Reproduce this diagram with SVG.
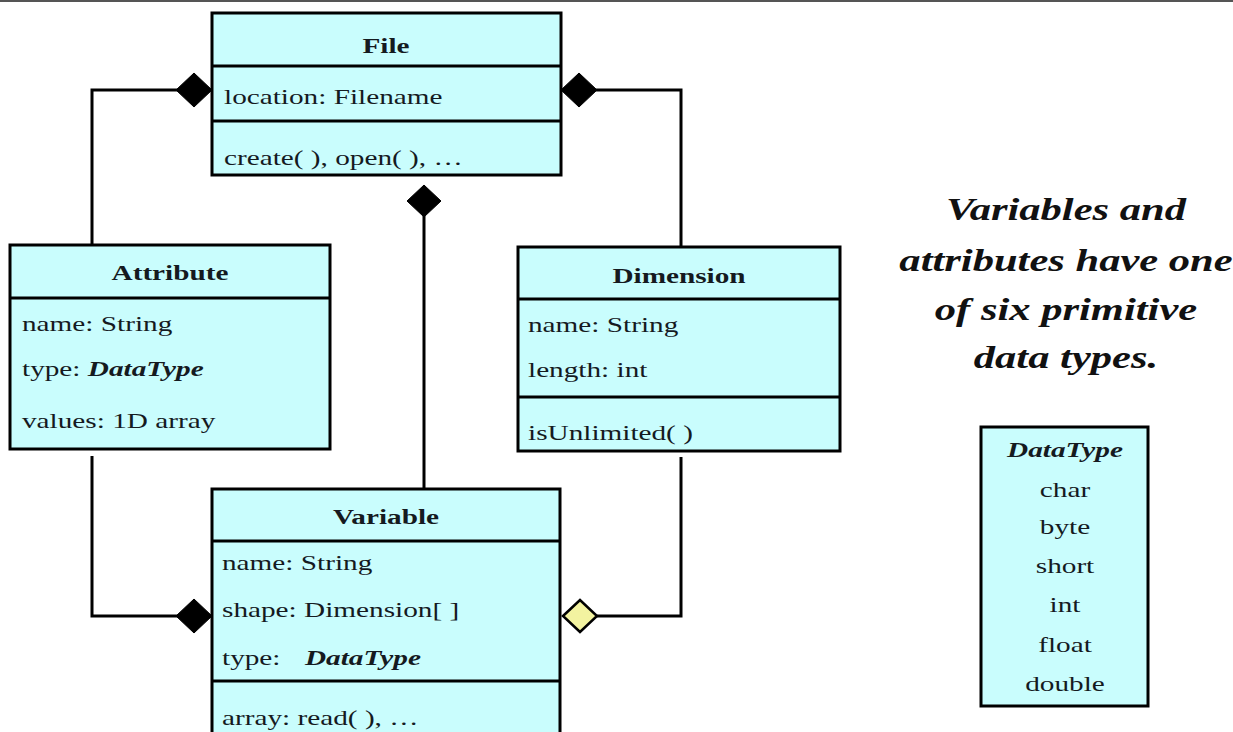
<svg xmlns="http://www.w3.org/2000/svg" width="1233" height="732" viewBox="0 0 1233 732">
<style>
.box{fill:#c9fdfd;stroke:#000;stroke-width:3}
.div{stroke:#000;stroke-width:3}
.t{font-family:"Liberation Serif","Times New Roman",serif;font-size:22px;fill:#151a1f}
.b{font-weight:bold}
.bi{font-weight:bold;font-style:italic}
.big{font-family:"Liberation Serif","Times New Roman",serif;font-size:32px;font-weight:bold;font-style:italic;fill:#111}
.ln{fill:none;stroke:#000;stroke-width:3}
.fd{fill:#000;stroke:#000;stroke-width:1}
.hd{fill:#f3f3a0;stroke:#000;stroke-width:2.5}
</style>
<rect x="0" y="0" width="1233" height="732" fill="#fff"/>
<rect x="0" y="0" width="1233" height="2" fill="#555"/>

<g id="connectors">
<path class="ln" d="M92 245 V90 H178"/>
<polygon class="fd" points="212,90 194,73 176,90 194,107"/>
<path class="ln" d="M596 90 H681 V247"/>
<polygon class="fd" points="561,90 579,73 597,90 579,107"/>
<path class="ln" d="M424 216 V489"/>
<polygon class="fd" points="424,185 441,201 424,217 407,201"/>
<path class="ln" d="M92 456 V616 H178"/>
<polygon class="fd" points="212,616 194,599 176,616 194,633"/>
<path class="ln" d="M681 457 V616 H597"/>
<polygon class="hd" points="563,616 580,600 597,616 580,632"/>
</g>

<g id="file">
<rect class="box" x="212" y="13" width="349" height="162"/>
<line class="div" x1="212" y1="66" x2="561" y2="66"/>
<line class="div" x1="212" y1="121" x2="561" y2="121"/>
<text class="t b" text-anchor="middle" transform="matrix(1.33 0 0 1 386 53)">File</text>
<text class="t" transform="matrix(1.33 0 0 1 224 104)">location: Filename</text>
<text class="t" transform="matrix(1.33 0 0 1 224 165)">create( ), open( ), …</text>
</g>

<g id="attribute">
<rect class="box" x="10" y="245" width="320" height="204"/>
<line class="div" x1="10" y1="298" x2="330" y2="298"/>
<text class="t b" text-anchor="middle" transform="matrix(1.33 0 0 1 170 280)">Attribute</text>
<text class="t" transform="matrix(1.33 0 0 1 22 331)">name: String</text>
<text class="t" transform="matrix(1.33 0 0 1 22 376)">type: <tspan class="bi">DataType</tspan></text>
<text class="t" transform="matrix(1.33 0 0 1 22 428)">values: 1D array</text>
</g>

<g id="dimension">
<rect class="box" x="518" y="247" width="322" height="204"/>
<line class="div" x1="518" y1="299" x2="840" y2="299"/>
<line class="div" x1="518" y1="397" x2="840" y2="397"/>
<text class="t b" text-anchor="middle" transform="matrix(1.33 0 0 1 679 283)">Dimension</text>
<text class="t" transform="matrix(1.33 0 0 1 528 332)">name: String</text>
<text class="t" transform="matrix(1.33 0 0 1 528 377)">length: int</text>
<text class="t" transform="matrix(1.33 0 0 1 528 440)">isUnlimited( )</text>
</g>

<g id="variable">
<rect class="box" x="212" y="489" width="348" height="260"/>
<line class="div" x1="212" y1="541" x2="560" y2="541"/>
<line class="div" x1="212" y1="681" x2="560" y2="681"/>
<text class="t b" text-anchor="middle" transform="matrix(1.33 0 0 1 386 524)">Variable</text>
<text class="t" transform="matrix(1.33 0 0 1 222 570)">name: String</text>
<text class="t" transform="matrix(1.33 0 0 1 222 617)">shape: Dimension[ ]</text>
<text class="t" transform="matrix(1.33 0 0 1 222 665)">type:</text>
<text class="t bi" transform="matrix(1.33 0 0 1 305 665)">DataType</text>
<text class="t" transform="matrix(1.33 0 0 1 222 725)">array: read( ), …</text>
</g>

<g id="note">
<text class="big" text-anchor="middle" transform="matrix(1.33 0 0 1 1066 220)">Variables and</text>
<text class="big" text-anchor="middle" transform="matrix(1.33 0 0 1 1066 271)">attributes have one</text>
<text class="big" text-anchor="middle" transform="matrix(1.33 0 0 1 1066 320)">of six primitive</text>
<text class="big" text-anchor="middle" transform="matrix(1.33 0 0 1 1066 368)">data types.</text>
</g>

<g id="datatype">
<rect class="box" x="981" y="427" width="167" height="279"/>
<text class="t bi" text-anchor="middle" transform="matrix(1.33 0 0 1 1065 457)">DataType</text>
<text class="t" text-anchor="middle" transform="matrix(1.33 0 0 1 1065 497)">char</text>
<text class="t" text-anchor="middle" transform="matrix(1.33 0 0 1 1065 534)">byte</text>
<text class="t" text-anchor="middle" transform="matrix(1.33 0 0 1 1065 573)">short</text>
<text class="t" text-anchor="middle" transform="matrix(1.33 0 0 1 1065 612)">int</text>
<text class="t" text-anchor="middle" transform="matrix(1.33 0 0 1 1065 652)">float</text>
<text class="t" text-anchor="middle" transform="matrix(1.33 0 0 1 1065 691)">double</text>
</g>
</svg>
